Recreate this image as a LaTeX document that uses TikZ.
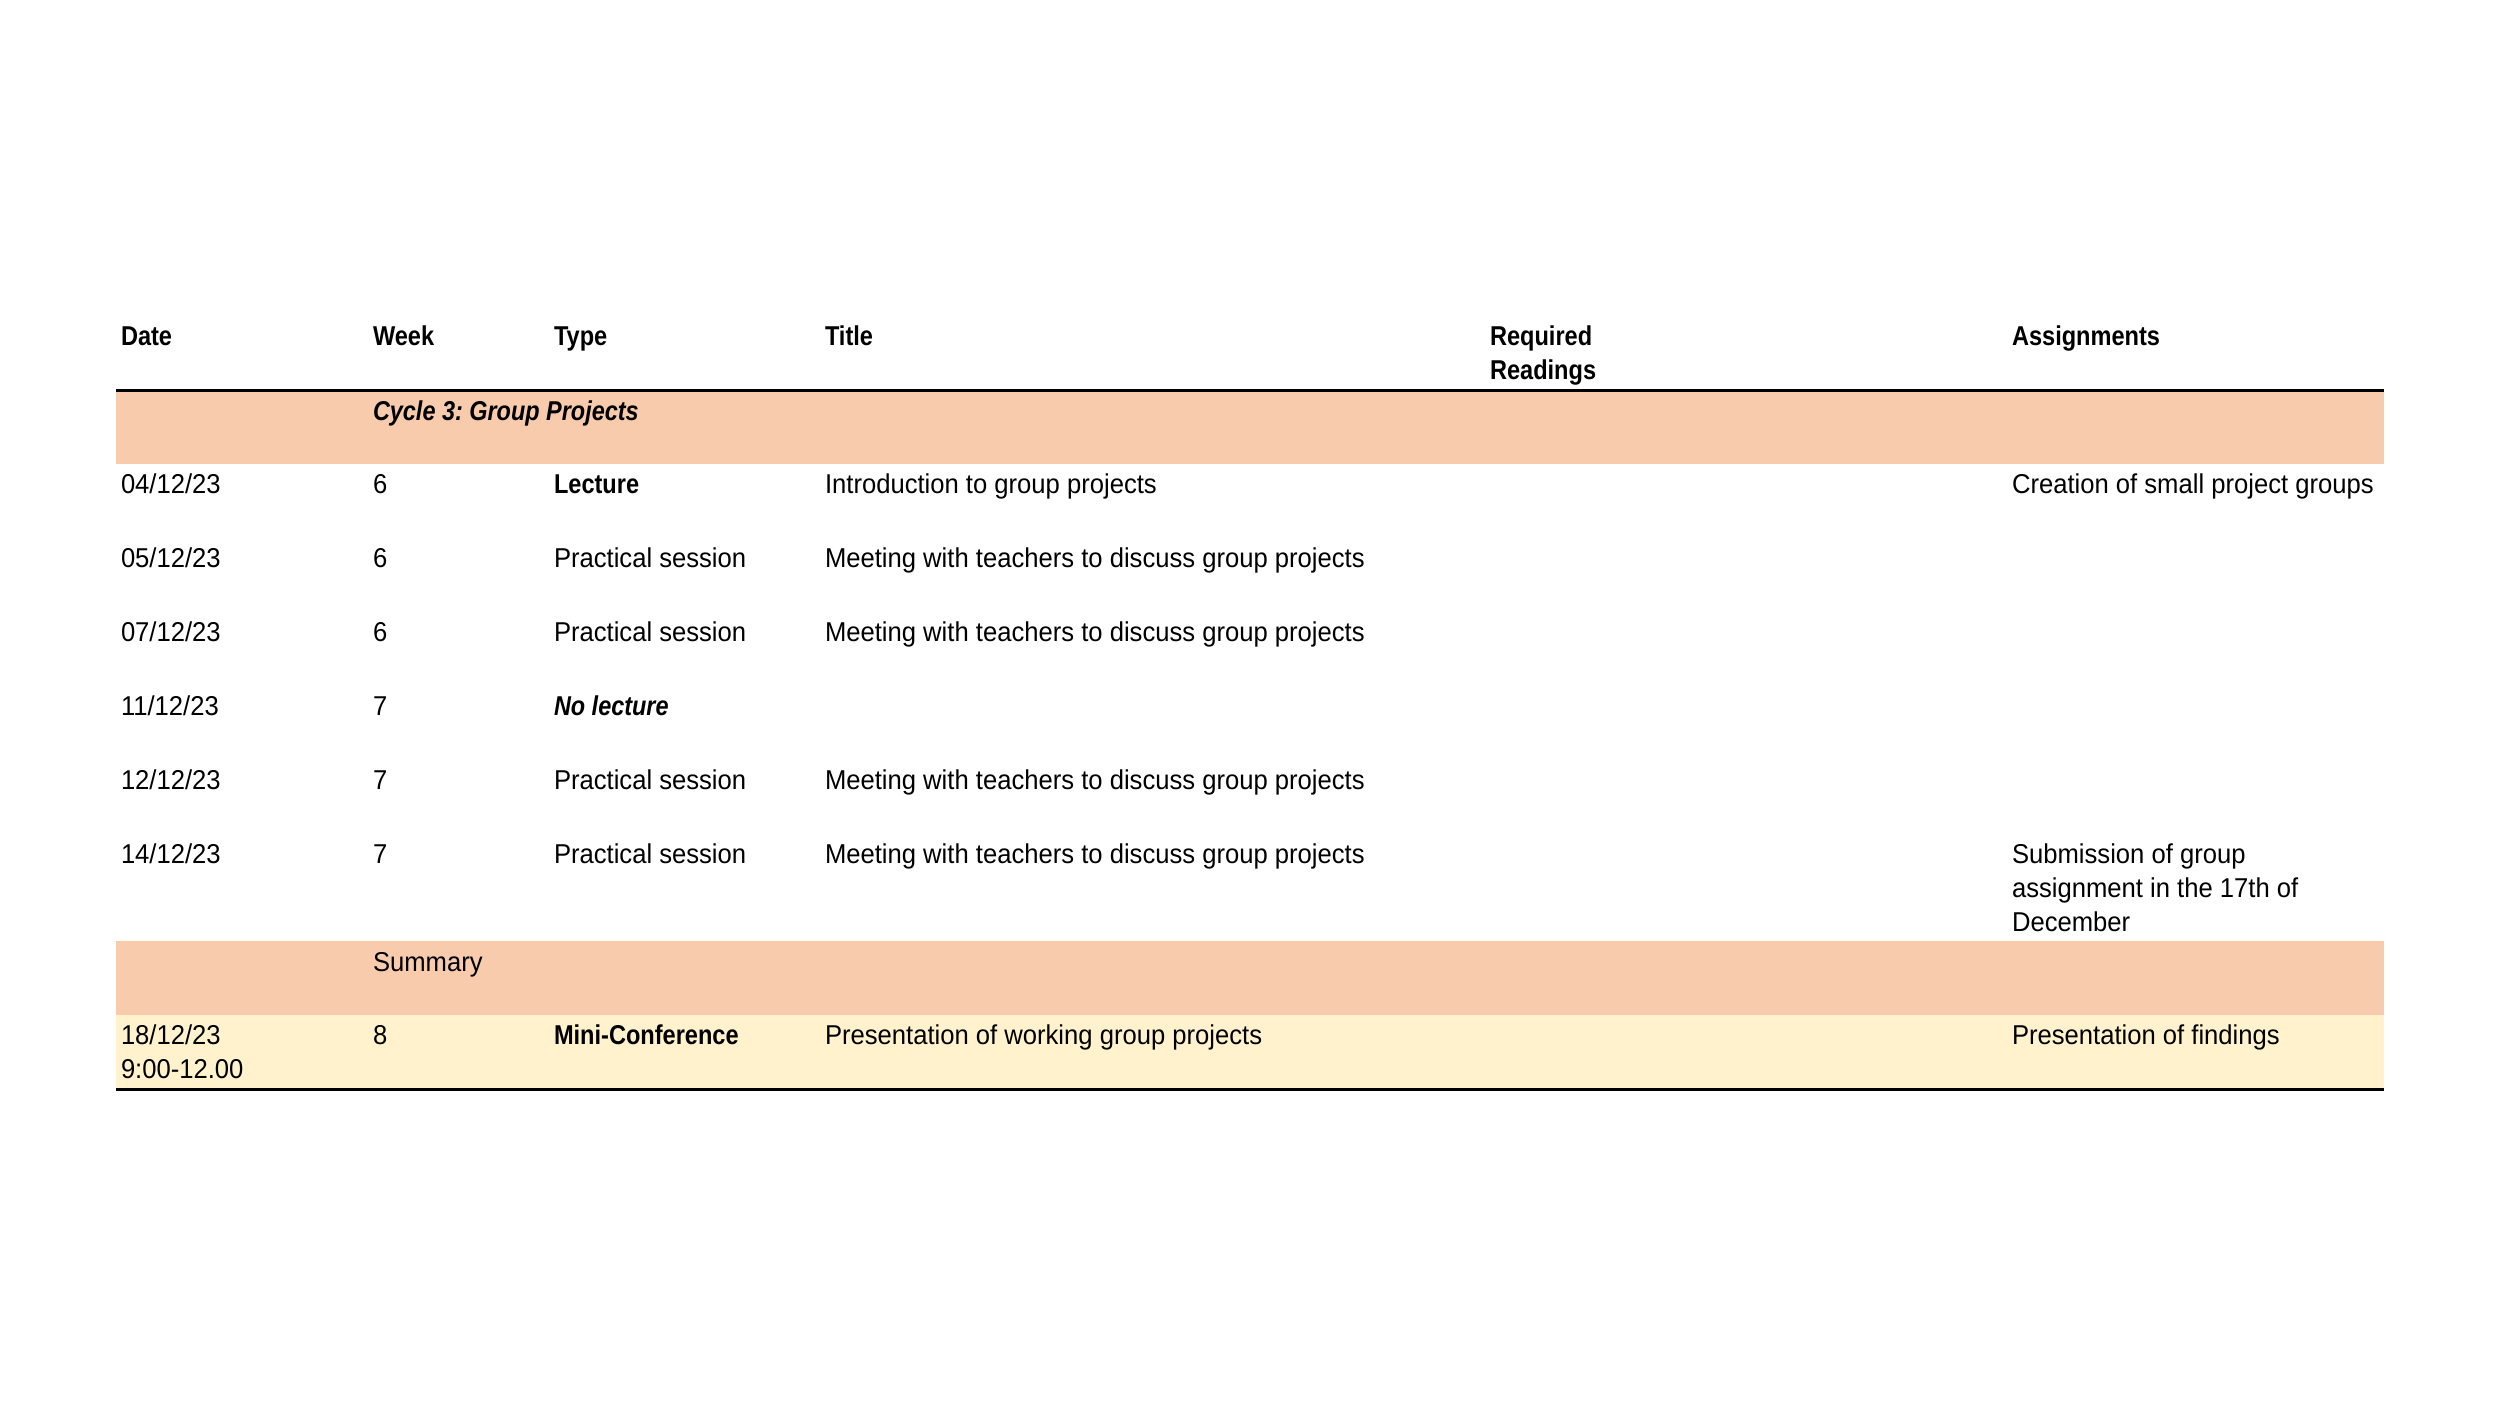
\documentclass[tikz,border=0pt]{standalone}
\usepackage{fontspec}
\setmainfont{Liberation Sans}[FakeStretch=0.94, BoldFeatures={FakeStretch=0.865}, BoldItalicFeatures={FakeStretch=0.86}]
\definecolor{bandsalmon}{HTML}{F8CBAD}
\definecolor{bandyellow}{HTML}{FFF2CC}
\tikzset{
  cell/.style={anchor=base west, inner sep=0pt, outer sep=0pt, font=\fontsize{7.75pt}{9.67pt}\selectfont\frenchspacing},
  hcell/.style={cell, font=\fontsize{7.75pt}{9.67pt}\selectfont\frenchspacing\bfseries},
  bcell/.style={cell, font=\fontsize{7.75pt}{9.67pt}\selectfont\frenchspacing\bfseries},
  bicell/.style={cell, font=\fontsize{7.75pt}{9.67pt}\selectfont\frenchspacing\bfseries\itshape},
  tablerule/.style={line width=0.7pt, black}
}
\begin{document}
\begin{tikzpicture}[x=0.01cm, y=-0.01cm]
\useasboundingbox (0,0) rectangle (2500,1406);
\fill[white] (0,0) rectangle (2500,1406);
% bands
\fill[bandsalmon] (116,391) rectangle (2384,464);
\fill[bandsalmon] (116,941) rectangle (2384,1015);
\fill[bandyellow] (116,1015) rectangle (2384,1088);
% rules
\coordinate (rl1) at (116,390.3);
\coordinate (rr1) at (2384,390.3);
\coordinate (rl2) at (116,1089.5);
\coordinate (rr2) at (2384,1089.5);
\draw[tablerule] (rl1) -- (rr1);
\draw[tablerule] (rl2) -- (rr2);
% header
\node[hcell] (hdate) at (121,345) {Date};
\node[hcell] (hweek) at (373,345) {Week};
\node[hcell] (htype) at (554,345) {Type};
\node[hcell] (htitle) at (825,345) {Title};
\node[hcell] (hreq1) at (1490,345) {Required};
\node[hcell] (hreq2) at (1490,379) {Readings};
\node[hcell] (hass) at (2012,345) {Assignments};
% cycle band
\node[bicell] (cycle) at (373,420) {Cycle 3: Group Projects};
% row 1
\node[cell] (d1) at (121,493) {04/12/23};
\node[cell] (w1) at (373,493) {6};
\node[bcell] (t1) at (554,493) {Lecture};
\node[cell] (ti1) at (825,493) {Introduction to group projects};
\node[cell] (a1) at (2012,493) {Creation of small project groups};
% row 2
\node[cell] (d2) at (121,567) {05/12/23};
\node[cell] (w2) at (373,567) {6};
\node[cell] (t2) at (554,567) {Practical session};
\node[cell] (ti2) at (825,567) {Meeting with teachers to discuss group projects};
% row 3
\node[cell] (d3) at (121,641) {07/12/23};
\node[cell] (w3) at (373,641) {6};
\node[cell] (t3) at (554,641) {Practical session};
\node[cell] (ti3) at (825,641) {Meeting with teachers to discuss group projects};
% row 4
\node[cell] (d4) at (121,715) {11/12/23};
\node[cell] (w4) at (373,715) {7};
\node[bicell] (t4) at (554,715) {No lecture};
% row 5
\node[cell] (d5) at (121,789) {12/12/23};
\node[cell] (w5) at (373,789) {7};
\node[cell] (t5) at (554,789) {Practical session};
\node[cell] (ti5) at (825,789) {Meeting with teachers to discuss group projects};
% row 6
\node[cell] (d6) at (121,863) {14/12/23};
\node[cell] (w6) at (373,863) {7};
\node[cell] (t6) at (554,863) {Practical session};
\node[cell] (ti6) at (825,863) {Meeting with teachers to discuss group projects};
\node[cell] (a6a) at (2012,863) {Submission of group};
\node[cell] (a6b) at (2012,897) {assignment in the 17th of};
\node[cell] (a6c) at (2012,931) {December};
% summary
\node[cell] (summ) at (373,971) {Summary};
% final row
\node[cell] (d8a) at (121,1044) {18/12/23};
\node[cell] (d8b) at (121,1078) {9:00-12.00};
\node[cell] (w8) at (373,1044) {8};
\node[bcell] (t8) at (554,1044) {Mini-Conference};
\node[cell] (ti8) at (825,1044) {Presentation of working group projects};
\node[cell] (a8) at (2012,1044) {Presentation of findings};
\end{tikzpicture}
\end{document}
